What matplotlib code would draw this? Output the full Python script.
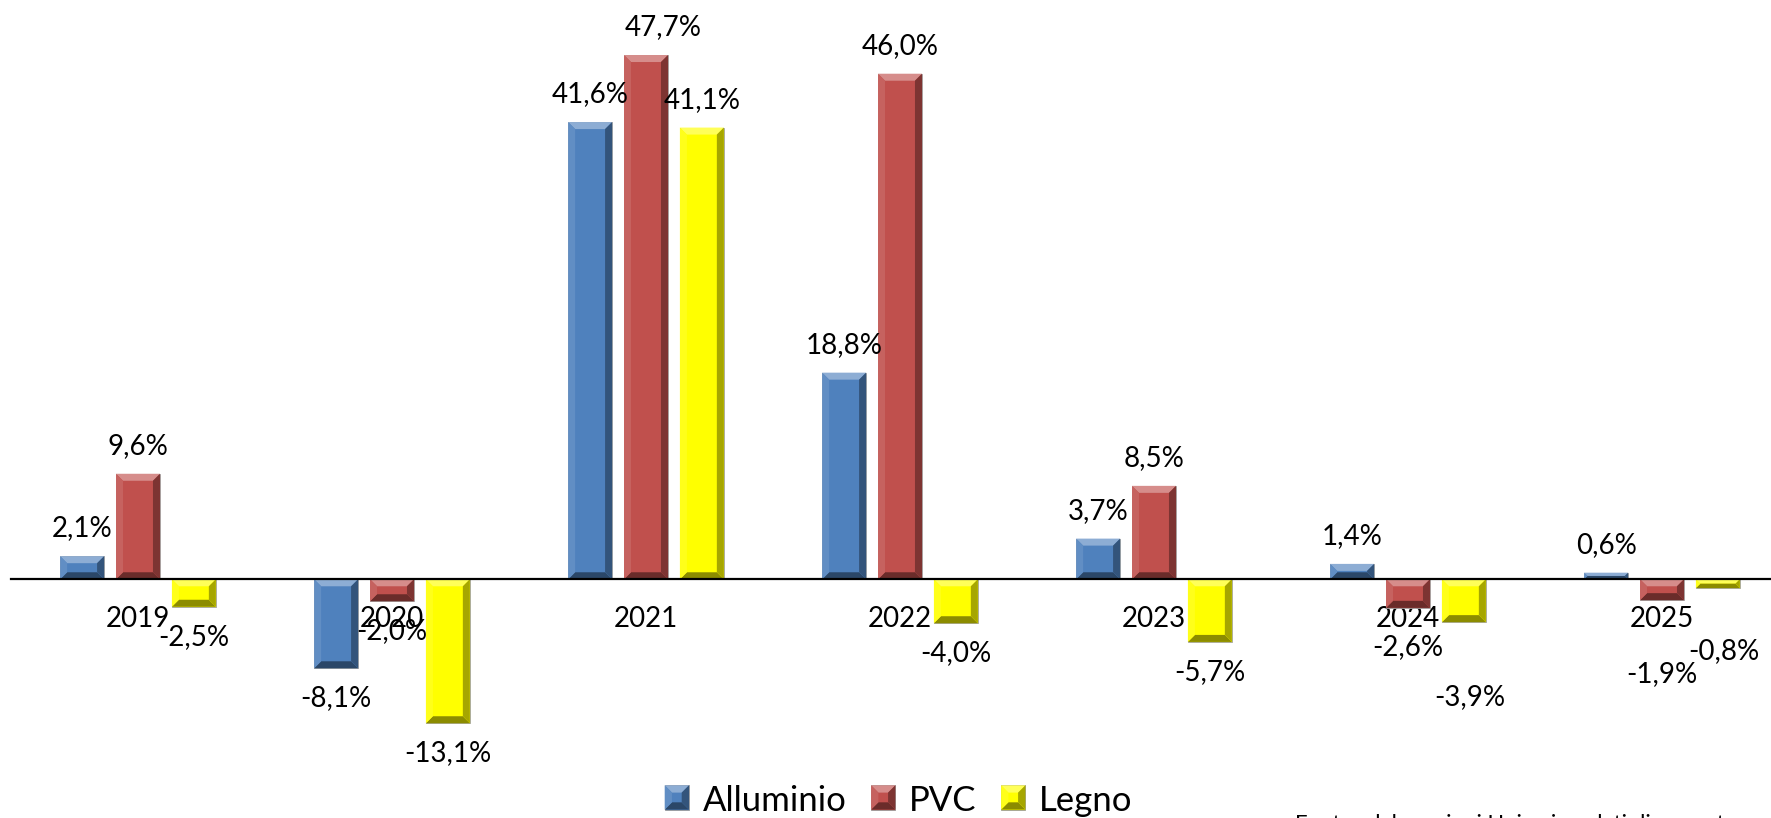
import matplotlib
matplotlib.use('Agg')
import matplotlib.pyplot as plt
from matplotlib.patches import Polygon, Rectangle
from matplotlib.legend_handler import HandlerBase
from matplotlib.colors import to_rgb
import numpy as np

years = ['2019', '2020', '2021', '2022', '2023', '2024', '2025']
alluminio = [2.1, -8.1, 41.6, 18.8, 3.7, 1.4, 0.6]
pvc = [9.6, -2.0, 47.7, 46.0, 8.5, -2.6, -1.9]
legno = [-2.5, -13.1, 41.1, -4.0, -5.7, -3.9, -0.8]

series = [('Alluminio', alluminio, '#4F81BD'),
          ('PVC', pvc, '#C0504D'),
          ('Legno', legno, '#FFFF00')]

# labels that were moved by hand in the original (extra pixels, x / y)
label_nudge = {('PVC', '2021'): (17, 0),
               ('PVC', '2024'): (0, 9),
               ('Legno', '2024'): (6, 45),
               ('PVC', '2025'): (0, 44),
               ('Legno', '2025'): (6, 33)}

plt.rcParams['font.family'] = ['Lato', 'DejaVu Sans']


def shade(color, f):
    c = np.array(to_rgb(color))
    if f > 0:
        return tuple(c + (1 - c) * f)
    return tuple(c * (1 + f))


def bevel_polys(X0, Y0, X1, Y1, color, b=7):
    bb = min(b, (Y1 - Y0) / 2, (X1 - X0) / 2)
    parts = [
        ([(X0, Y1), (X1, Y1), (X1 - bb, Y1 - bb), (X0 + bb, Y1 - bb)], shade(color, 0.35)),
        ([(X0, Y0), (X1, Y0), (X1 - bb, Y0 + bb), (X0 + bb, Y0 + bb)], shade(color, -0.45)),
        ([(X0, Y0), (X0, Y1), (X0 + bb, Y1 - bb), (X0 + bb, Y0 + bb)], shade(color, 0.1)),
        ([(X1, Y0), (X1, Y1), (X1 - bb, Y1 - bb), (X1 - bb, Y0 + bb)], shade(color, -0.35)),
    ]
    return parts


def add_bevel(ax, rect, color):
    x0, y0 = rect.get_x(), rect.get_y()
    x1, y1 = x0 + rect.get_width(), y0 + rect.get_height()
    (X0, Y0), (X1, Y1) = ax.transData.transform([(x0, min(y0, y1)), (x1, max(y0, y1))])
    inv = ax.transData.inverted()
    for pts, c in bevel_polys(X0, Y0, X1, Y1, color):
        ax.add_patch(Polygon(inv.transform(pts), closed=True, facecolor=c,
                             edgecolor='none', zorder=3))


class BevelHandler(HandlerBase):
    def create_artists(self, legend, orig_handle, xdescent, ydescent,
                       width, height, fontsize, trans):
        color = orig_handle.get_facecolor()
        s = height * 1.0
        X0 = -xdescent + (width - s) / 2
        Y0 = -ydescent + (height - s) / 2 + 1
        arts = [Rectangle((X0, Y0), s, s, facecolor=color, edgecolor='#999999',
                          lw=0.6, transform=trans)]
        for pts, c in bevel_polys(X0, Y0, X0 + s, Y0 + s, color, b=s * 0.3):
            arts.append(Polygon(pts, closed=True, facecolor=c, edgecolor='none',
                                transform=trans))
        return arts


fig = plt.figure(figsize=(17.71, 8.18), dpi=100)
ax = fig.add_axes([0.00621, 0.0500, 1.00395, 0.9405])
ax.set_xlim(-0.5, 6.5)
ax.set_ylim(-18, 52)

x = np.arange(len(years))
width = 0.173
step = 0.22
handles = []
for k, (name, vals, color) in enumerate(series):
    bars = ax.bar(x + (k - 1) * step, vals, width, color=color,
                  edgecolor='#a0a0a0', linewidth=0.6, zorder=2)
    handles.append(Rectangle((0, 0), 1, 1, facecolor=color, label=name))
    for rect, v, yr in zip(bars, vals, years):
        add_bevel(ax, rect, color)
        dx, dy = label_nudge.get((name, yr), (0, 0))
        off = 28 if v >= 0 else -(30 + dy)
        ax.annotate(f'{v:.1f}%'.replace('.', ','),
                    (rect.get_x() + rect.get_width() / 2, v),
                    xytext=(dx, off), textcoords='offset pixels',
                    ha='center', va='center', fontsize=20, zorder=5)

for s in ['top', 'right', 'left']:
    ax.spines[s].set_visible(False)
ax.spines['bottom'].set_position(('data', 0))
ax.spines['bottom'].set_linewidth(1.6)
ax.spines['bottom'].set_zorder(4)
ax.set_yticks([])
ax.set_xticks(x, years)
ax.tick_params(axis='x', length=0, pad=19, labelsize=20)
ax.patch.set_alpha(0)

fig.legend(handles=handles, loc='center', bbox_to_anchor=(897 / 1771, 1 - 801 / 818),
           ncol=3, frameon=False, fontsize=25, handlelength=0.9, handleheight=0.7,
           handletextpad=0.3, columnspacing=0.6, borderpad=0.2,
           handler_map={Rectangle: BevelHandler()})

fig.text(1295 / 1771, 4 / 818, 'Fonte: elaborazioni Unicmi su dati di mercato',
         fontsize=16, va='top', ha='left')

fig.savefig('out.png', dpi=100)
